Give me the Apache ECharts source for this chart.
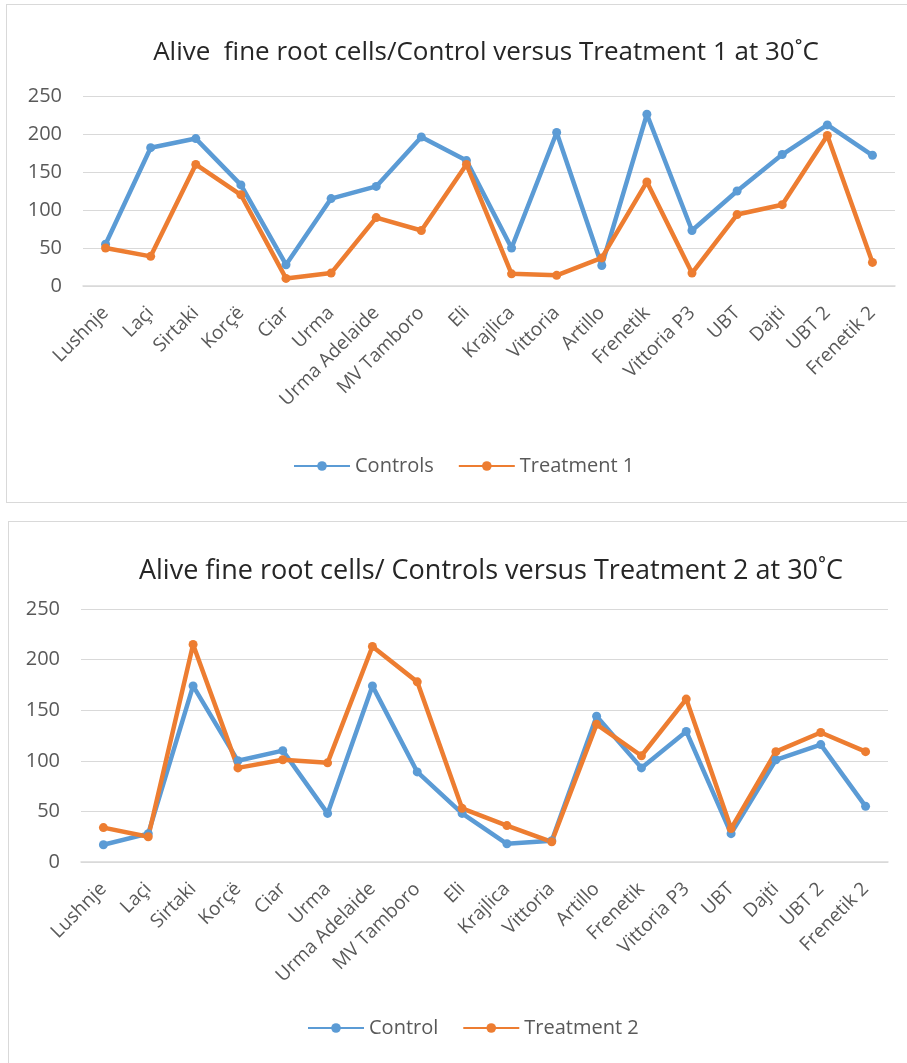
<!DOCTYPE html>
<html><head><meta charset="utf-8">
<script src="https://cdn.jsdelivr.net/npm/echarts@6/dist/echarts.min.js"></script>
<style>
html,body{margin:0;padding:0;background:#fff;width:907px;height:1063px;overflow:hidden;}
#c1{position:absolute;left:6px;top:4px;width:920px;height:499px;border:1.5px solid #d9d9d9;box-sizing:border-box;}
#c2{position:absolute;left:8px;top:521px;width:920px;height:560px;border:1.5px solid #d9d9d9;box-sizing:border-box;}
</style></head>
<body>
<div id="c1"></div>
<div id="c2"></div>
<script>
const categories = ["Lushnje","Laçi","Sirtaki","Korçë","Ciar","Urma","Urma Adelaide","MV Tamboro","Eli","Krajlica","Vittoria","Artillo","Frenetik","Vittoria P3","UBT","Dajti","UBT 2","Frenetik 2"];
const controls1 = [55,182,194,133,28,115,131,196,165,50,202,27,226,73,125,173,212,172];
const treatment1 = [50,39,160,120,10,17,90,73,160,16,14,37,137,17,94,107,198,31];
const control2 = [17,28,174,100,110,48,174,89,48,18,21,144,93,129,28,101,116,55];
const treatment2 = [34,25,215,93,101,98,213,178,53,36,20,136,105,161,33,109,128,109];
const yTicks = [0,50,100,150,200,250];

const FONT = "'Open Sans',sans-serif";
const BLUE = '#5b9bd5', ORANGE = '#ed7d31';

function makeOption(cfg){
  return {
    animation:false,
    textStyle:{fontFamily:FONT},
    title:{text:cfg.title,left:cfg.titleX,top:cfg.titleY,textAlign:'center',
      textStyle:{fontFamily:FONT,fontSize:cfg.titleSize,fontWeight:'normal',color:'#262626'}},
    legend:{left:cfg.legendX,top:cfg.legendY,padding:0,itemWidth:56,itemHeight:12,itemGap:24,
      textStyle:{fontFamily:FONT,fontSize:20,color:'#595959'},
      data:[cfg.names[0],cfg.names[1]]},
    grid:{left:cfg.gridLeft,right:cfg.gridRight,top:cfg.gridTop,height:cfg.gridH,containLabel:false},
    xAxis:{type:'category',data:categories,boundaryGap:true,
      axisLine:{lineStyle:{color:'#d9d9d9',width:1.5}},axisTick:{show:false},
      axisLabel:{rotate:45,fontFamily:FONT,fontSize:19,color:'#595959',margin:24,interval:0}},
    yAxis:{type:'value',min:yTicks[0],max:yTicks[yTicks.length-1],interval:yTicks[1]-yTicks[0],
      axisLine:{show:false},axisTick:{show:false},
      splitLine:{lineStyle:{color:'#d9d9d9',width:1.2}},
      axisLabel:{fontFamily:FONT,fontSize:20,color:'#595959',margin:cfg.yMargin}},
    series:[
      {name:cfg.names[0],type:'line',data:cfg.d0,symbol:'circle',symbolSize:9,
        lineStyle:{color:BLUE,width:4.5},itemStyle:{color:BLUE}},
      {name:cfg.names[1],type:'line',data:cfg.d1,symbol:'circle',symbolSize:9,
        lineStyle:{color:ORANGE,width:4.5},itemStyle:{color:ORANGE}}
    ]
  };
}

const ch1 = echarts.init(document.getElementById('c1'));
ch1.setOption(makeOption({
  title:'Alive  fine root cells/Control versus Treatment 1 at 30˚C',
  titleX:474, titleY:30, titleSize:26,
  legendX:286, legendY:451,
  names:['Controls','Treatment 1'], d0:controls1, d1:treatment1,
  gridLeft:76, gridRight:920-890, gridTop:91, gridH:190, yMargin:21
}));
const ch2 = echarts.init(document.getElementById('c2'));
ch2.setOption(makeOption({
  title:'Alive fine root cells/ Controls versus Treatment 2 at 30˚C',
  titleX:477, titleY:31, titleSize:27,
  legendX:298, legendY:496,
  names:['Control','Treatment 2'], d0:control2, d1:treatment2,
  gridLeft:72, gridRight:920-881, gridTop:87, gridH:253, yMargin:21
}));
</script>
</body></html>
